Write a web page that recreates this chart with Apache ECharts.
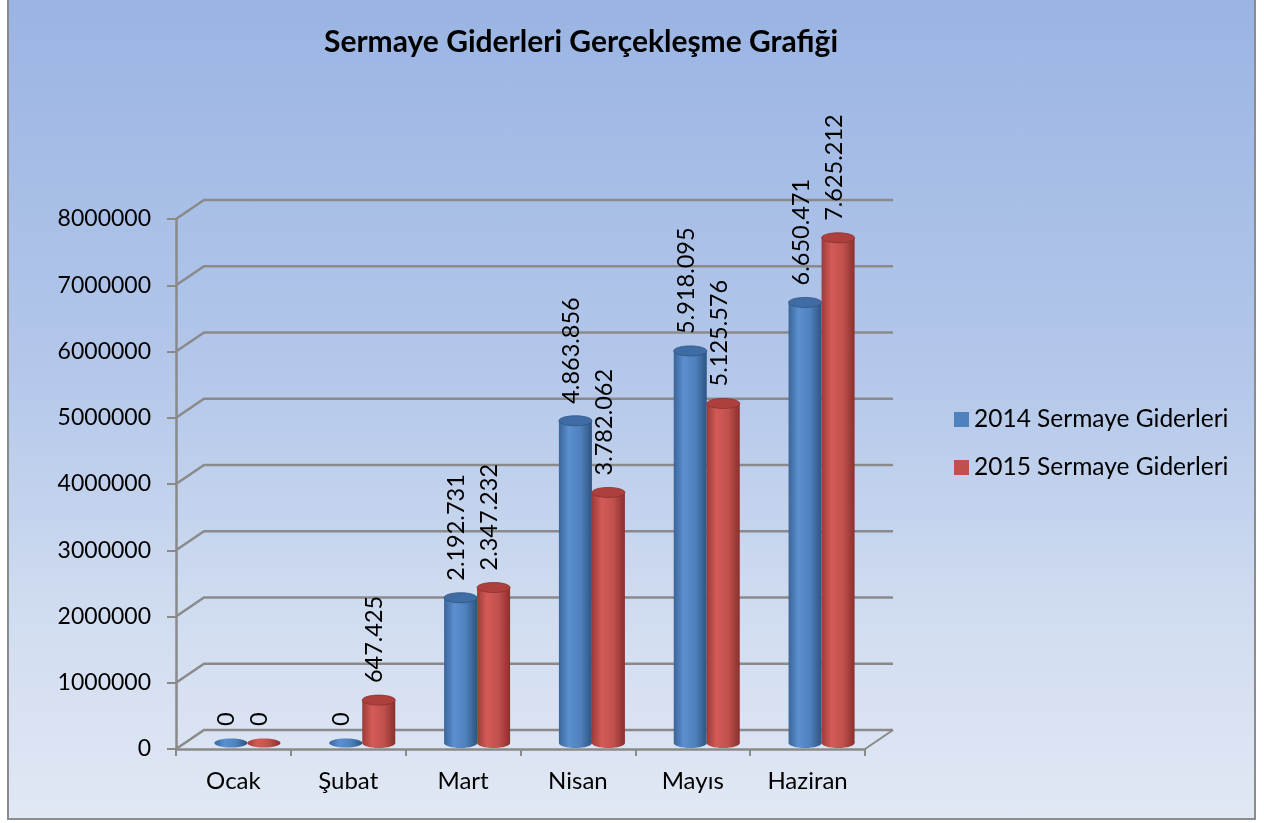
<!DOCTYPE html>
<html>
<head>
<meta charset="utf-8">
<script src="https://cdn.jsdelivr.net/npm/echarts@6/dist/echarts.min.js"></script>
<style>
  html, body { margin: 0; padding: 0; width: 1264px; height: 823px; background: #ffffff; overflow: hidden; }
  #frame { position: absolute; left: 7px; top: -2px; width: 1245px; height: 818px;
           border: 2px solid #8c8c8c;
           background: linear-gradient(to bottom, #9ab4e3 0%, #b3c7ea 45%, #d0dcf0 75%, #e1e8f4 100%); }
  #chart { position: absolute; left: 0; top: 0; width: 1264px; height: 823px; }
</style>
</head>
<body>
<div id="frame"></div>
<div id="chart"></div>
<script>
// ---- data ----
const categories = ['Ocak', 'Şubat', 'Mart', 'Nisan', 'Mayıs', 'Haziran'];
const seriesNames = ['2014 Sermaye Giderleri', '2015 Sermaye Giderleri'];
const values2014 = [0, 0, 2192731, 4863856, 5918095, 6650471];
const values2015 = [0, 647425, 2347232, 3782062, 5125576, 7625212];
const yTicks = [0, 1000000, 2000000, 3000000, 4000000, 5000000, 6000000, 7000000, 8000000];

// ---- style constants ----
const FONT = 'Lato, "Liberation Sans", sans-serif';
const DEPTH_DX = 28, DEPTH_DY = -19;   // back wall offset
const BAR_DX = 14, BAR_DY = -6;        // bars sit mid-depth
const BAR_W = 33;
const GRID_COLOR = '#8a8a8a';

function fmt(v) {
  return String(Math.round(v)).replace(/\B(?=(\d{3})+(?!\d))/g, '.');
}

const palettes = [
  { edgeL: '#3b6598', light: '#5b8fd0', mid: '#4f81bd', edgeR: '#2e5482', top: '#3f6ca5' },
  { edgeL: '#9c3b38', light: '#d45b57', mid: '#c0504d', edgeR: '#8a302e', top: '#ad403d' }
];

function cylGradient(p) {
  return new echarts.graphic.LinearGradient(0, 0, 1, 0, [
    { offset: 0, color: p.edgeL },
    { offset: 0.3, color: p.light },
    { offset: 0.65, color: p.mid },
    { offset: 1, color: p.edgeR }
  ]);
}

function wallRender(params, api) {
  const v = api.value(1);
  const band = api.size([1, 0])[0];
  const p = api.coord([0, v]);
  const x0 = p[0] - band / 2;
  const x1 = x0 + band * categories.length;
  const y = p[1];
  const children = [{
    type: 'polyline',
    shape: { points: [[x0, y], [x0 + DEPTH_DX, y + DEPTH_DY], [x1 + DEPTH_DX, y + DEPTH_DY]] },
    style: { stroke: GRID_COLOR, lineWidth: 2.5, fill: null }
  }];
  if (v === 0) {
    children.push({
      type: 'line',
      shape: { x1: x1, y1: y, x2: x1 + DEPTH_DX, y2: y + DEPTH_DY },
      style: { stroke: GRID_COLOR, lineWidth: 2 }
    });
  }
  return { type: 'group', children: children, silent: true };
}

function makeBarRender(sIdx) {
  const pal = palettes[sIdx];
  const shift = sIdx === 0 ? -BAR_W / 2 : BAR_W / 2;
  return function (params, api) {
    const i = api.value(0), v = api.value(1);
    const base = api.coord([i, 0]);
    const top = api.coord([i, v]);
    const cx = base[0] + BAR_DX + shift;
    const yb = base[1] + BAR_DY;
    const yt = top[1] + BAR_DY;
    const rx = BAR_W / 2;
    const children = [];
    if (v > 0) {
      children.push({ type: 'ellipse', shape: { cx: cx, cy: yb, rx: rx, ry: 5 }, style: { fill: cylGradient(pal) } });
      children.push({ type: 'rect', shape: { x: cx - rx, y: yt, width: BAR_W, height: yb - yt }, style: { fill: cylGradient(pal) } });
      children.push({ type: 'ellipse', shape: { cx: cx, cy: yt, rx: rx, ry: 5 }, style: { fill: pal.top, stroke: pal.edgeR, lineWidth: 0.8 } });
    } else {
      children.push({ type: 'ellipse', shape: { cx: cx, cy: yb, rx: rx, ry: 4.5 }, style: { fill: cylGradient(pal) } });
    }
    children.push({
      type: 'text',
      x: cx - 4, y: yt - 17,
      rotation: Math.PI / 2,
      style: { text: fmt(v), font: '23.5px ' + FONT, fill: '#000', align: 'left', verticalAlign: 'middle' }
    });
    return { type: 'group', children: children };
  };
}

const chart = echarts.init(document.getElementById('chart'), null, { renderer: 'canvas' });
chart.setOption({
  backgroundColor: 'transparent',
  animation: false,
  title: {
    text: 'Sermaye Giderleri Gerçekleşme Grafiği',
    left: 576, top: 22, textAlign: 'center',
    textStyle: { fontFamily: FONT, fontSize: 30, fontWeight: 'bold', color: '#000' }
  },
  legend: {
    orient: 'vertical', left: 949, top: 402,
    icon: 'rect', itemWidth: 15, itemHeight: 15, itemGap: 23,
    textStyle: { fontFamily: FONT, fontSize: 24.5, color: '#000' },
    data: seriesNames
  },
  grid: { left: 176, right: 1264 - 865, top: 219, bottom: 823 - 749, containLabel: false },
  xAxis: {
    type: 'category', data: categories,
    axisLine: { show: true, lineStyle: { color: GRID_COLOR, width: 2.5 } },
    axisTick: { show: true, alignWithLabel: false, length: 7, lineStyle: { color: GRID_COLOR, width: 2 } },
    axisLabel: { fontFamily: FONT, fontSize: 24, color: '#000', margin: 20 },
    splitLine: { show: false }
  },
  yAxis: {
    type: 'value', min: 0, max: 8000000, interval: 1000000,
    axisLine: { show: true, lineStyle: { color: GRID_COLOR, width: 2.5 } },
    axisTick: { show: true, inside: false, length: 9, lineStyle: { color: GRID_COLOR, width: 2 } },
    axisLabel: { fontFamily: FONT, fontSize: 23, color: '#000', margin: 25, formatter: v => String(v) },
    splitLine: { show: false }
  },
  series: [
    {
      type: 'custom', name: 'walls', silent: true, z: 1,
      renderItem: wallRender,
      encode: { x: 0, y: 1 },
      data: yTicks.map(v => [0, v])
    },
    {
      type: 'custom', name: seriesNames[0], z: 3,
      itemStyle: { color: '#4f81bd' },
      renderItem: makeBarRender(0),
      encode: { x: 0, y: 1 },
      data: values2014.map((v, i) => [i, v])
    },
    {
      type: 'custom', name: seriesNames[1], z: 4,
      itemStyle: { color: '#c0504d' },
      renderItem: makeBarRender(1),
      encode: { x: 0, y: 1 },
      data: values2015.map((v, i) => [i, v])
    }
  ]
});
</script>
</body>
</html>
